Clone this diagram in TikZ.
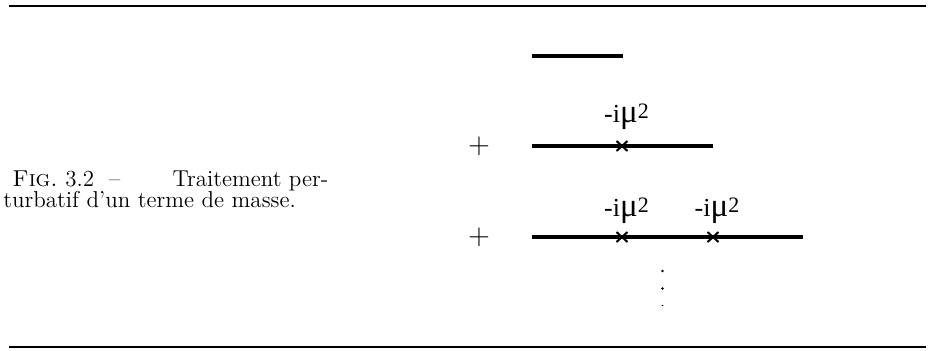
\documentclass[tikz,border=0pt]{standalone}
\usepackage{fontspec}
\newfontfamily\timesfont{Liberation Serif}
\usetikzlibrary{shapes.misc}
\newcommand{\mulab}{{\timesfont\fontsize{13}{13}\selectfont -i}{\timesfont\fontsize{16.5}{16.5}\selectfont μ}\raisebox{2.2pt}{\timesfont\fontsize{11}{11}\selectfont 2}}
\begin{document}
\begin{tikzpicture}[x=0.5pt,y=-0.5pt,
  rule/.style={line width=0.75pt},
  prop/.style={line width=2pt},
  vtx/.style={cross out,draw,line width=1pt,minimum width=4.5pt,minimum height=4pt,inner sep=0pt},
  lab/.style={inner sep=0pt,anchor=base},
  capt/.style={anchor=base west,inner sep=0pt,font=\fontsize{11.5}{11.5}\selectfont},
  plus/.style={font=\fontsize{13.5}{13.5}\selectfont,inner sep=0pt},
  vdot/.style={circle,fill,inner sep=0pt,minimum size=1.4pt}]
\useasboundingbox (0,0) rectangle (932,350);
% rules
\coordinate (tl) at (9,5.8); \coordinate (tr) at (926,5.8);
\coordinate (bl) at (9,347); \coordinate (br) at (926,347);
\draw[rule] (tl) -- (tr);
\draw[rule] (bl) -- (br);
% caption
\node[capt] (cap1) at (12,186)
 {\hbox to 158pt{\textsc{Fig.}\ 3.2\hskip 4pt plus 0.5fil--\hskip 12pt plus 2fil Traitement\ per-}};
\node[capt] (cap2) at (3,207.5) {turbatif d'un terme de masse.};
% first term
\coordinate (a1) at (532,56); \coordinate (b1) at (622.5,56);
\draw[prop] (a1) -- (b1);
% second term
\node[plus] (p2) at (479,146) {$+$};
\coordinate (a2) at (532,146); \coordinate (b2) at (713,146);
\draw[prop] (a2) -- (b2);
\node[vtx] (x21) at (622,146) {};
\node[lab] (l21) at (626.5,122.7) {\mulab};
% third term
\node[plus] (p3) at (479,237) {$+$};
\coordinate (a3) at (532,237); \coordinate (b3) at (803,237);
\draw[prop] (a3) -- (b3);
\node[vtx] (x31) at (622,237) {};
\node[vtx] (x32) at (713,237) {};
\node[lab] (l31) at (626.5,216.5) {\mulab};
\node[lab] (l32) at (717,216.5) {\mulab};
% dots
\node[vdot] (d1) at (662.5,271) {};
\node[vdot] (d2) at (662.5,288.5) {};
\node[vdot,minimum size=1pt,yscale=0.6] (d3) at (662.5,305.5) {};
\end{tikzpicture}
\end{document}
